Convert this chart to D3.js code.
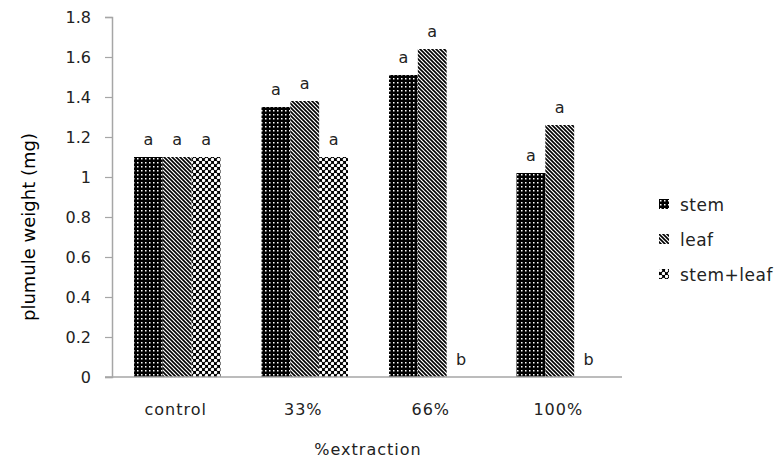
<!DOCTYPE html>
<html>
<head>
<meta charset="utf-8">
<script src="https://cdn.jsdelivr.net/npm/d3@7"></script>
<style>
body { margin: 0; background: #fff; }
text { font-family: "DejaVu Sans", Verdana, sans-serif; }
</style>
</head>
<body>
<div id="chart"></div>
<script>
// data
var categories = ["control", "33%", "66%", "100%"];
var seriesNames = ["stem", "leaf", "stem+leaf"];
var stemValues = [1.1, 1.35, 1.51, 1.02];
var leafValues = [1.1, 1.38, 1.64, 1.26];
var stemLeafValues = [1.1, 1.1, 0, 0];
var stemLetters = ["a", "a", "a", "a"];
var leafLetters = ["a", "a", "a", "a"];
var stemLeafLetters = ["a", "a", "b", "b"];
var yTicks = [0, 0.2, 0.4, 0.6, 0.8, 1, 1.2, 1.4, 1.6, 1.8];

var seriesValues = [stemValues, leafValues, stemLeafValues];
var seriesLetters = [stemLetters, leafLetters, stemLeafLetters];
var patternIds = ["pStem", "pLeaf", "pBoth"];

var W = 777, H = 459;
var margin = {top: 17, right: 155, bottom: 82, left: 112};
var width = W - margin.left - margin.right,
    height = H - margin.top - margin.bottom;

var svg = d3.select("#chart").append("svg")
    .attr("width", W)
    .attr("height", H);

// fill patterns
var defs = svg.append("defs");
var p1 = defs.append("pattern").attr("id", "pStem")
    .attr("patternUnits", "userSpaceOnUse").attr("width", 4).attr("height", 4);
p1.append("rect").attr("width", 4).attr("height", 4).attr("fill", "#000");
p1.append("rect").attr("x", 1).attr("y", 1).attr("width", 1.5).attr("height", 1.5).attr("fill", "#fff");

var p2 = defs.append("pattern").attr("id", "pLeaf")
    .attr("patternUnits", "userSpaceOnUse").attr("width", 4).attr("height", 4);
p2.append("rect").attr("width", 4).attr("height", 4).attr("fill", "#fff");
p2.append("path").attr("d", "M-1,-1L5,5M-1,3L1,5M3,-1L5,1")
    .attr("stroke", "#000").attr("stroke-width", 1.6);

var p3 = defs.append("pattern").attr("id", "pBoth")
    .attr("patternUnits", "userSpaceOnUse").attr("width", 6).attr("height", 6);
p3.append("rect").attr("width", 6).attr("height", 6).attr("fill", "#000");
p3.append("circle").attr("cx", 1.5).attr("cy", 1.5).attr("r", 1.7).attr("fill", "#fff");
p3.append("circle").attr("cx", 4.5).attr("cy", 4.5).attr("r", 1.7).attr("fill", "#fff");

var g = svg.append("g")
    .attr("transform", "translate(" + margin.left + "," + margin.top + ")");

var x = d3.scaleBand().domain(categories).range([0, width]).paddingInner(0).paddingOuter(0);
var xs = d3.scaleBand().domain(seriesNames).range([22, x.bandwidth() - 19]);
var y = d3.scaleLinear().domain([0, 1.8]).range([height, 0]);

// y axis
var yAxis = g.append("g")
    .call(d3.axisLeft(y).tickValues(yTicks).tickSize(7).tickPadding(14)
        .tickFormat(function(d) { return String(+d.toFixed(1)); }));
yAxis.select(".domain").attr("stroke", "#a6a6a6").attr("stroke-width", 1.5);
yAxis.selectAll(".tick line").attr("stroke", "#a6a6a6").attr("stroke-width", 1.2);
yAxis.selectAll(".tick text").attr("fill", "#222").style("font-size", "16px");

// bars
seriesNames.forEach(function(s, i) {
    var rows = categories.map(function(c, j) {
        return {cat: c, value: seriesValues[i][j], letter: seriesLetters[i][j]};
    });
    g.selectAll(".bar-" + i).data(rows).enter().append("rect")
        .attr("class", "bar-" + i)
        .attr("x", function(d) { return x(d.cat) + xs(s); })
        .attr("y", function(d) { return y(d.value); })
        .attr("width", xs.bandwidth())
        .attr("height", function(d) { return height - y(d.value); })
        .attr("fill", "url(#" + patternIds[i] + ")");
    g.selectAll(".lab-" + i).data(rows).enter().append("text")
        .attr("class", "lab-" + i)
        .attr("x", function(d) { return x(d.cat) + xs(s) + xs.bandwidth() / 2; })
        .attr("y", function(d) { return d.value > 0 ? y(d.value) - 12 : y(0) - 12; })
        .attr("text-anchor", "middle")
        .attr("fill", "#222")
        .style("font-size", "16px")
        .text(function(d) { return d.letter; });
});

// x axis
var xAxis = g.append("g")
    .attr("transform", "translate(0," + height + ")")
    .call(d3.axisBottom(x).tickSize(0).tickPadding(27));
xAxis.select(".domain").attr("stroke", "#a6a6a6").attr("stroke-width", 1.5)
    .attr("d", "M-7,0H" + width);
xAxis.selectAll(".tick text").attr("fill", "#222").style("font-size", "16px")
    .style("letter-spacing", "1px");

// axis titles
g.append("text")
    .attr("x", width / 2 + 1)
    .attr("y", height + 78)
    .attr("text-anchor", "middle")
    .attr("fill", "#222")
    .style("font-size", "16px")
    .style("letter-spacing", "1px")
    .text("%extraction");

svg.append("text")
    .attr("transform", "rotate(-90)")
    .attr("x", -227)
    .attr("y", 35)
    .attr("text-anchor", "middle")
    .attr("fill", "#000")
    .style("font-size", "18px")
    .text("plumule weight (mg)");

// legend
var legend = svg.append("g").attr("transform", "translate(659,199)");
seriesNames.forEach(function(s, i) {
    var row = legend.append("g").attr("transform", "translate(0," + (i * 35) + ")");
    row.append("rect").attr("width", 10).attr("height", 10)
        .attr("fill", "url(#" + patternIds[i] + ")");
    row.append("text").attr("x", 21).attr("y", 12)
        .attr("fill", "#222").style("font-size", "17px")
        .style("letter-spacing", "0.5px").text(s);
});
</script>
</body>
</html>
